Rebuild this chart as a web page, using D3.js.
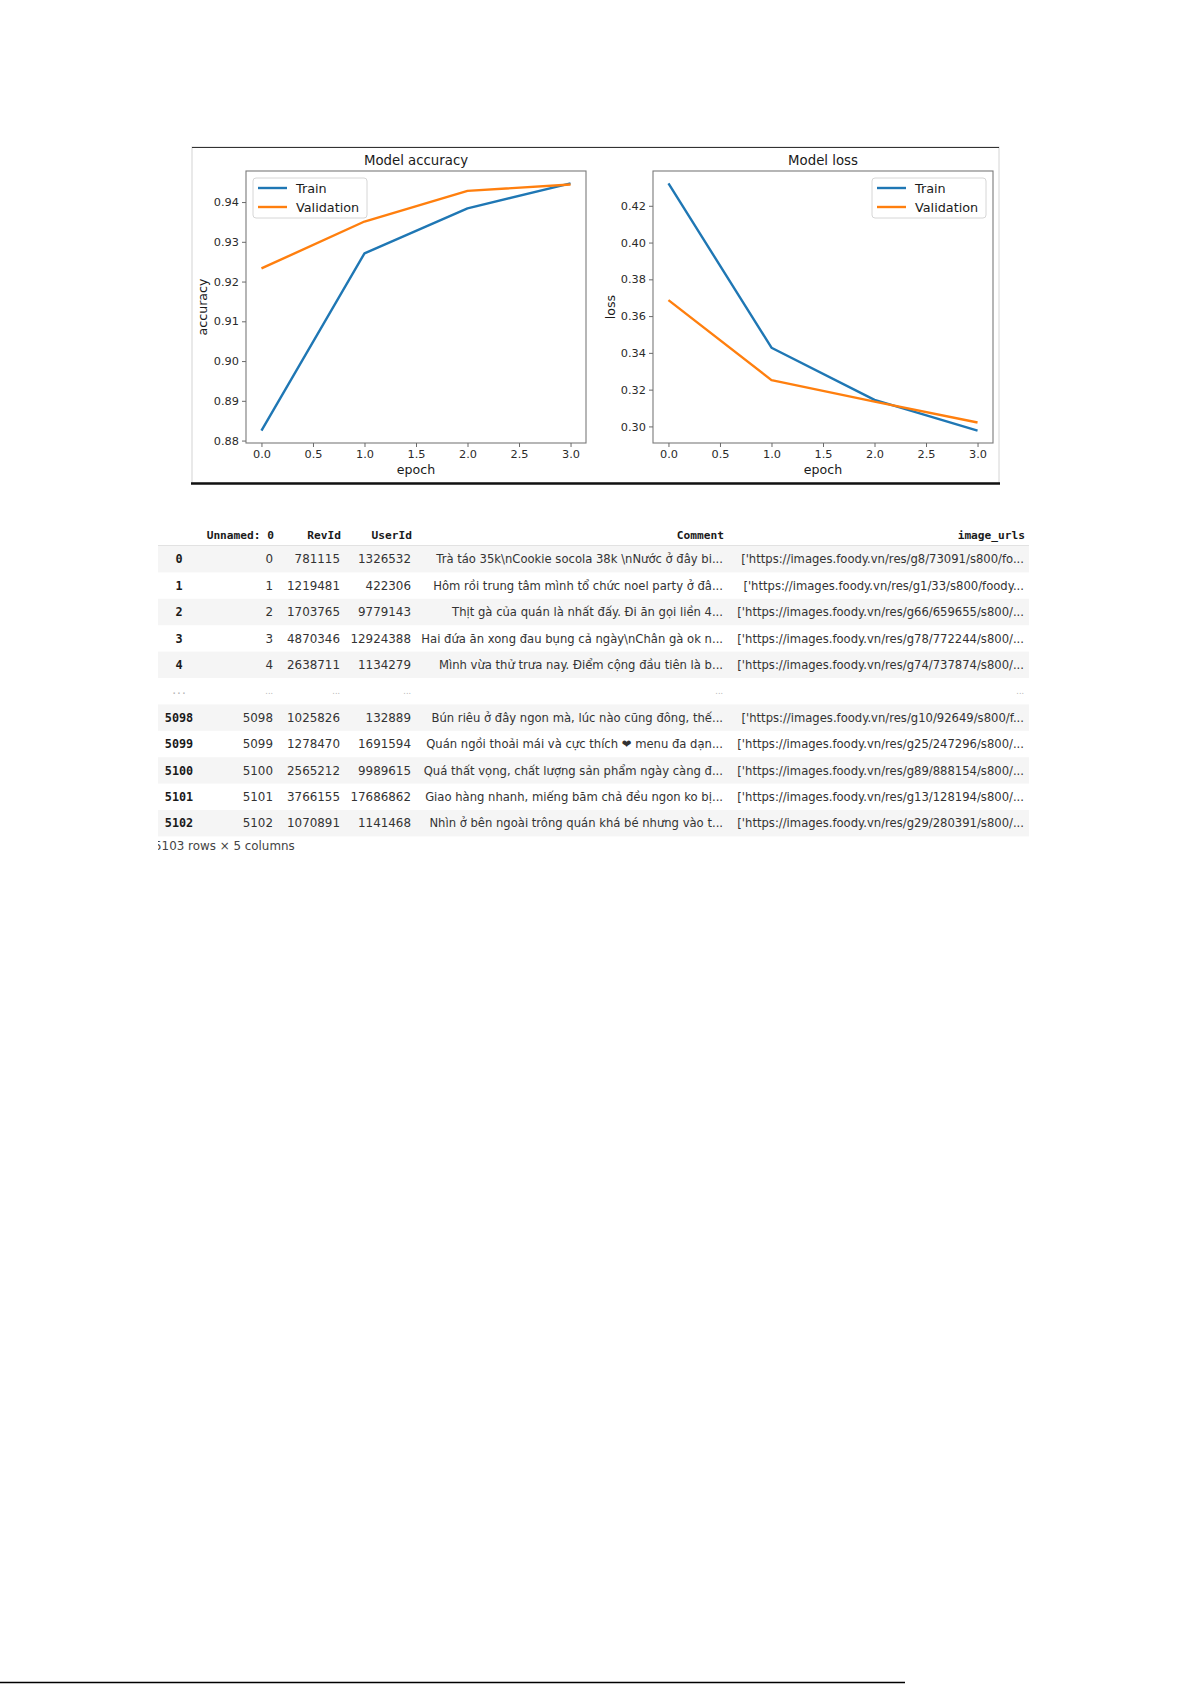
<!DOCTYPE html>
<html>
<head>
<meta charset="utf-8">
<script src="https://cdn.jsdelivr.net/npm/d3@7"></script>
<style>
html,body{margin:0;padding:0;background:#fff;}
svg{display:block;}
</style>
</head>
<body>
<svg id="page" width="1192" height="1684"></svg>
<script>
// ---------------- data ----------------
const epochs = [0, 1, 2, 3];
const accTrain = [0.8825, 0.9271, 0.9384, 0.9447];
const accVal   = [0.9233, 0.9351, 0.9428, 0.9444];
const lossTrain = [0.4322, 0.3428, 0.3144, 0.2977];
const lossVal   = [0.3687, 0.3252, 0.3135, 0.3021];
const epochTicks = [0, 0.5, 1, 1.5, 2, 2.5, 3];
const accTicks = [0.88, 0.89, 0.90, 0.91, 0.92, 0.93, 0.94];
const lossTicks = [0.30, 0.32, 0.34, 0.36, 0.38, 0.40, 0.42];
const seriesNames = ["Train", "Validation"];

const tableHeaders = ["", "Unnamed: 0", "RevId", "UserId", "Comment", "image_urls"];
const indexLabels = ["0", "1", "2", "3", "4", "...", "5098", "5099", "5100", "5101", "5102"];
const unnamedCol = ["0", "1", "2", "3", "4", "...", "5098", "5099", "5100", "5101", "5102"];
const revIds = ["781115", "1219481", "1703765", "4870346", "2638711", "...", "1025826", "1278470", "2565212", "3766155", "1070891"];
const userIds = ["1326532", "422306", "9779143", "12924388", "1134279", "...", "132889", "1691594", "9989615", "17686862", "1141468"];
const comments = [
  "Trà táo 35k\\nCookie socola 38k \\nNước ở đây bi...",
  "Hôm rồi trung tâm mình tổ chức noel party ở đâ...",
  "Thịt gà của quán là nhất đấy. Đi ăn gọi liền 4...",
  "Hai đứa ăn xong đau bụng cả ngày\\nChân gà ok n...",
  "Mình vừa thử trưa nay. Điểm cộng đầu tiên là b...",
  "...",
  "Bún riêu ở đây ngon mà, lúc nào cũng đông, thế...",
  "Quán ngồi thoải mái và cực thích ❤ menu đa dạn...",
  "Quá thất vọng, chất lượng sản phẩm ngày càng đ...",
  "Giao hàng nhanh, miếng băm chả đều ngon ko bị...",
  "Nhìn ở bên ngoài trông quán khá bé nhưng vào t..."
];
const imageUrls = [
  "['https://images.foody.vn/res/g8/73091/s800/fo...",
  "['https://images.foody.vn/res/g1/33/s800/foody...",
  "['https://images.foody.vn/res/g66/659655/s800/...",
  "['https://images.foody.vn/res/g78/772244/s800/...",
  "['https://images.foody.vn/res/g74/737874/s800/...",
  "...",
  "['https://images.foody.vn/res/g10/92649/s800/f...",
  "['https://images.foody.vn/res/g25/247296/s800/...",
  "['https://images.foody.vn/res/g89/888154/s800/...",
  "['https://images.foody.vn/res/g13/128194/s800/...",
  "['https://images.foody.vn/res/g29/280391/s800/..."
];
const footerText = "5103 rows × 5 columns";

// ---------------- drawing ----------------
const svg = d3.select("#page");
const FONT = "'DejaVu Sans', sans-serif";
const MONO = "'DejaVu Sans Mono', monospace";
const colors = ["#1f77b4", "#ff7f0e"];

// figure frame
const frame = svg.append("g");
frame.append("rect").attr("x", 192).attr("y", 147).attr("width", 807).attr("height", 336)
  .attr("fill", "none").attr("stroke", "#d4d4d4").attr("stroke-width", 1);
frame.append("line").attr("x1", 192).attr("x2", 999).attr("y1", 147.5).attr("y2", 147.5)
  .attr("stroke", "#333").attr("stroke-width", 1.2);
frame.append("line").attr("x1", 191).attr("x2", 1000).attr("y1", 483.5).attr("y2", 483.5)
  .attr("stroke", "#111").attr("stroke-width", 2.6);

function margin(vals) {
  const lo = d3.min(vals), hi = d3.max(vals), r = hi - lo;
  return [lo - 0.05 * r, hi + 0.05 * r];
}

function drawPanel(cfg) {
  const g = svg.append("g");
  const x = d3.scaleLinear().domain(margin(epochs)).range([cfg.left, cfg.right]);
  const y = d3.scaleLinear().domain(margin(cfg.series[0].concat(cfg.series[1]))).range([cfg.bottom, cfg.top]);

  // lines
  const line = d3.line().x((d, i) => x(epochs[i])).y(d => y(d));
  cfg.series.forEach((s, k) => {
    g.append("path").datum(s).attr("d", line).attr("fill", "none")
      .attr("stroke", colors[k]).attr("stroke-width", 2.4).attr("stroke-linejoin", "round");
  });

  // spines
  g.append("rect").attr("x", cfg.left).attr("y", cfg.top)
    .attr("width", cfg.right - cfg.left).attr("height", cfg.bottom - cfg.top)
    .attr("fill", "none").attr("stroke", "#7a7a7a").attr("stroke-width", 1.1);

  // axes
  const xa = g.append("g").attr("transform", `translate(0,${cfg.bottom})`)
    .call(d3.axisBottom(x).tickValues(epochTicks).tickFormat(d3.format(".1f")).tickSize(4).tickPadding(3));
  const ya = g.append("g").attr("transform", `translate(${cfg.left},0)`)
    .call(d3.axisLeft(y).tickValues(cfg.ticks).tickFormat(d3.format(".2f")).tickSize(4).tickPadding(3));
  [xa, ya].forEach(a => {
    a.select(".domain").remove();
    a.selectAll(".tick line").attr("stroke", "#6a6a6a");
    a.selectAll(".tick text").attr("fill", "#2a2a2a").style("font-family", FONT).style("font-size", "11.3px");
  });

  // title & labels
  g.append("text").attr("x", (cfg.left + cfg.right) / 2).attr("y", 165)
    .attr("text-anchor", "middle").attr("fill", "#1a1a1a")
    .style("font-family", FONT).style("font-size", "13.3px").text(cfg.title);
  g.append("text").attr("x", (cfg.left + cfg.right) / 2).attr("y", 474)
    .attr("text-anchor", "middle").attr("fill", "#1a1a1a")
    .style("font-family", FONT).style("font-size", "12.6px").text("epoch");
  g.append("text").attr("transform", `translate(${cfg.ylabX},${(cfg.top + cfg.bottom) / 2}) rotate(-90)`)
    .attr("text-anchor", "middle").attr("dy", "0.35em").attr("fill", "#1a1a1a")
    .style("font-family", FONT).style("font-size", "12.6px").text(cfg.ylabel);

  // legend
  const lg = g.append("g").attr("transform", `translate(${cfg.legX},178)`);
  lg.append("rect").attr("width", 114).attr("height", 40).attr("rx", 3)
    .attr("fill", "rgba(255,255,255,0.85)").attr("stroke", "#d6d6d6");
  seriesNames.forEach((n, k) => {
    const yy = 10 + k * 19;
    lg.append("line").attr("x1", 5).attr("x2", 34).attr("y1", yy).attr("y2", yy)
      .attr("stroke", colors[k]).attr("stroke-width", 2.4);
    lg.append("text").attr("x", 43).attr("y", yy).attr("dy", "0.36em").attr("fill", "#1a1a1a")
      .style("font-family", FONT).style("font-size", "12.8px").text(n);
  });
}

drawPanel({ left: 246, right: 586, top: 171, bottom: 443, title: "Model accuracy", ylabel: "accuracy",
  ylabX: 203, series: [accTrain, accVal], ticks: accTicks, legX: 253 });
drawPanel({ left: 653, right: 993, top: 171, bottom: 443, title: "Model loss", ylabel: "loss",
  ylabX: 611, series: [lossTrain, lossVal], ticks: lossTicks, legX: 872 });

// ---------------- table ----------------
svg.append("defs").append("clipPath").attr("id", "tclip")
  .append("rect").attr("x", 158).attr("y", 500).attr("width", 900).attr("height", 380);
const tg = svg.append("g").attr("clip-path", "url(#tclip)");

const rows = d3.range(indexLabels.length);
const rowY = d3.scaleBand().domain(rows).range([546, 546 + 26.4 * rows.length]);
const TLEFT = 157, TRIGHT = 1029;

// stripes
tg.selectAll("rect.stripe").data(rows.filter(i => i % 2 === 0)).join("rect")
  .attr("class", "stripe").attr("x", TLEFT).attr("width", TRIGHT - TLEFT)
  .attr("y", i => rowY(i)).attr("height", rowY.bandwidth()).attr("fill", "#f5f5f5");
// header border
tg.append("line").attr("x1", TLEFT).attr("x2", TRIGHT).attr("y1", 545.5).attr("y2", 545.5)
  .attr("stroke", "#e2e2e2").attr("stroke-width", 1);

// column right edges (index column centered)
const colX = [179, 273, 340, 411, 723, 1024];
const headerY = 538.5;
tableHeaders.forEach((h, c) => {
  if (!h) return;
  tg.append("text").attr("x", colX[c] + 1).attr("y", headerY).attr("text-anchor", "end")
    .attr("fill", "#1a1a1a").style("font-family", MONO).style("font-weight", "bold")
    .style("font-size", "11.2px").text(h);
});

const cols = [indexLabels, unnamedCol, revIds, userIds, comments, imageUrls];
cols.forEach((col, c) => {
  tg.selectAll(null).data(col).join("text")
    .attr("x", colX[c]).attr("y", (d, i) => rowY(i) + rowY.bandwidth() / 2)
    .attr("dy", "0.36em")
    .attr("text-anchor", c === 0 ? "middle" : "end")
    .attr("fill", d => d === "..." ? "#b5b5b5" : (c === 0 ? "#1a1a1a" : "#333"))
    .style("font-family", c === 0 ? MONO : FONT)
    .style("font-weight", c === 0 ? "bold" : "normal")
    .style("font-size", d => d === "..." ? "8px" : (c === 0 ? "11.8px" : (c <= 3 ? "11.9px" : "11.6px")))
    .text(d => d);
});

tg.append("text").attr("x", 154).attr("y", 846).attr("dy", "0.36em")
  .attr("fill", "#444").style("font-family", FONT).style("font-size", "11.9px").text(footerText);

// bottom page rule
svg.append("line").attr("x1", 0).attr("x2", 905).attr("y1", 1682.5).attr("y2", 1682.5)
  .attr("stroke", "#000").attr("stroke-width", 1.6);
</script>
</body>
</html>
